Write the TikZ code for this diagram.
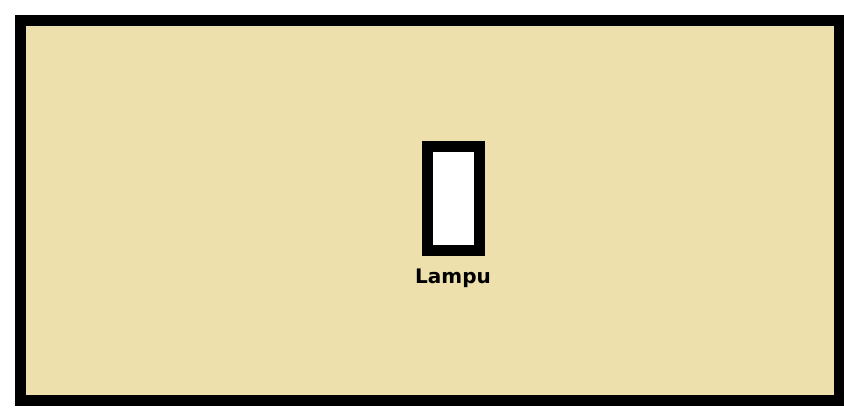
\documentclass[tikz,border=0pt]{standalone}
\usepackage{fontspec}
\setmainfont{DejaVu Sans}
\definecolor{beige}{RGB}{237,224,172}
\begin{document}
\begin{tikzpicture}[x=1pt,y=-1pt,
  room/.style={draw=black,line width=11pt,fill=beige},
  lamp/.style={draw=black,line width=11pt,fill=white},
  lbl/.style={font=\bfseries\fontsize{20}{20}\selectfont,anchor=base,inner sep=0pt}]
\useasboundingbox (0,0) rectangle (844,408);
\fill[white] (0,0) rectangle (844,408);
\draw[room] (20.5,20.5) rectangle (839.5,400.5);
\draw[lamp] (427,146.5) rectangle (479.5,250);
\node[lbl] (lampu) at (453,283) {Lampu};
\end{tikzpicture}
\end{document}
